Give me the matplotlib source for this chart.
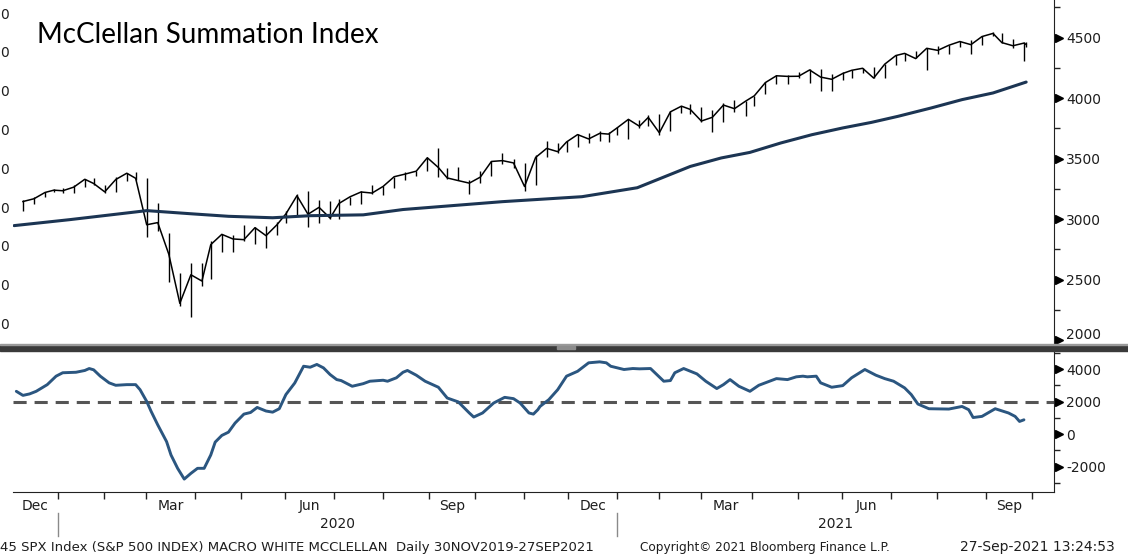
import numpy as np
import pandas as pd
import matplotlib
matplotlib.use("Agg")
import matplotlib.pyplot as plt
from matplotlib import transforms
from matplotlib.patches import Rectangle

W, H = 1128, 555

# NYSE holidays in the window -> trading-day x axis like the terminal chart
holidays = ["2019-12-25", "2020-01-01", "2020-01-20", "2020-02-17", "2020-04-10",
            "2020-05-25", "2020-07-03", "2020-09-07", "2020-11-26", "2020-12-25",
            "2021-01-01", "2021-01-18", "2021-02-15", "2021-04-02", "2021-05-31",
            "2021-07-05", "2021-09-06", "2021-10-11"]
days = pd.bdate_range("2019-12-02", "2021-10-29", freq="C", holidays=holidays)

# SPX weekly bars (week ending Friday, last one 27 Sep 2021)
week_end = list(pd.date_range("2019-12-06", "2021-09-24", freq="W-FRI")) + [pd.Timestamp("2021-09-27")]
spx_close = [3146, 3169, 3221, 3240,
             3235, 3265, 3330, 3295, 3226, 3328, 3380, 3338, 2954,
             2972, 2711, 2305, 2541, 2489, 2790, 2875, 2837,
             2831, 2930, 2864, 2955, 3044, 3194, 3041, 3098, 3009,
             3130, 3185, 3225, 3216, 3271, 3351, 3373, 3397, 3508,
             3427, 3341, 3319, 3298, 3348, 3477, 3484, 3465, 3270,
             3510, 3585, 3558, 3638, 3699, 3663, 3709, 3703,
             3756, 3825, 3768, 3841, 3714, 3887, 3934, 3907, 3811,
             3842, 3943, 3913, 3975, 4020, 4129, 4185, 4180, 4181,
             4233, 4174, 4156, 4204, 4230, 4247, 4166, 4281,
             4352, 4370, 4327, 4412, 4395, 4437, 4468, 4442, 4509,
             4535, 4459, 4433, 4455, 4443]
spx_high = [3157, 3182, 3226, 3247,
            3258, 3282, 3330, 3338, 3285, 3348, 3385, 3393, 3338,
            3137, 2882, 2553, 2637, 2641, 2819, 2880, 2870,
            2955, 2932, 2945, 2980, 3068, 3211, 3233, 3155, 3154,
            3165, 3186, 3233, 3280, 3272, 3352, 3387, 3399, 3509,
            3588, 3425, 3428, 3320, 3397, 3482, 3550, 3501, 3465,
            3529, 3645, 3628, 3644, 3700, 3712, 3726, 3724,
            3760, 3826, 3823, 3861, 3870, 3894, 3937, 3951, 3929,
            3903, 3960, 3983, 3979, 4021, 4130, 4192, 4195, 4219,
            4238, 4238, 4196, 4220, 4234, 4249, 4257, 4286,
            4356, 4372, 4393, 4415, 4430, 4441, 4469, 4480, 4513,
            4546, 4536, 4485, 4466, 4465]
spx_low = [3070, 3128, 3183, 3222,
           3213, 3215, 3264, 3281, 3214, 3222, 3316, 3328, 2855,
           2902, 2478, 2281, 2192, 2448, 2505, 2728, 2727,
           2817, 2798, 2766, 2873, 2969, 3038, 2936, 2965, 3005,
           3001, 3115, 3127, 3207, 3200, 3260, 3327, 3354, 3396,
           3349, 3330, 3322, 3210, 3297, 3354, 3460, 3420, 3234,
           3280, 3511, 3543, 3555, 3594, 3633, 3645, 3636,
           3697, 3663, 3750, 3767, 3694, 3725, 3874, 3866, 3805,
           3724, 3805, 3886, 3853, 3939, 4035, 4118, 4118, 4164,
           4128, 4057, 4061, 4148, 4168, 4207, 4165, 4164,
           4271, 4310, 4328, 4234, 4361, 4368, 4426, 4368, 4440,
           4513, 4456, 4415, 4305, 4426]

# 200-day moving average
ma_dates = ["2019-12-02", "2020-01-08", "2020-02-21", "2020-02-28", "2020-03-27",
            "2020-04-22", "2020-05-20", "2020-06-15", "2020-07-20", "2020-08-13",
            "2020-10-16", "2020-12-08", "2021-01-14", "2021-02-19", "2021-03-11",
            "2021-03-30", "2021-04-20", "2021-05-10", "2021-05-28", "2021-06-17",
            "2021-07-06", "2021-07-27", "2021-08-16", "2021-09-03", "2021-09-27"]
ma_values = [2947, 2996, 3060, 3071, 3045, 3024, 3012, 3029, 3036, 3080,
             3145, 3186, 3260, 3436, 3506, 3552, 3630, 3698, 3754, 3800,
             3850, 3919, 3988, 4043, 4133]

# McClellan Summation Index (lower panel)
mcsi_dates = ["2019-12-03", "2019-12-06", "2019-12-11", "2019-12-16", "2019-12-23", "2019-12-30",
              "2020-01-03", "2020-01-13", "2020-01-17", "2020-01-22", "2020-01-24", "2020-01-29",
              "2020-02-04", "2020-02-07", "2020-02-14", "2020-02-21", "2020-02-25", "2020-02-28",
              "2020-03-03", "2020-03-06", "2020-03-12", "2020-03-16", "2020-03-19", "2020-03-24", "2020-03-27",
              "2020-04-01", "2020-04-06", "2020-04-09", "2020-04-14", "2020-04-17", "2020-04-22", "2020-04-27",
              "2020-05-01", "2020-05-06", "2020-05-11", "2020-05-15", "2020-05-20", "2020-05-26", "2020-05-29",
              "2020-06-04", "2020-06-10", "2020-06-15", "2020-06-18", "2020-06-23", "2020-06-26",
              "2020-07-01", "2020-07-06", "2020-07-13", "2020-07-20", "2020-07-23", "2020-07-31",
              "2020-08-04", "2020-08-10", "2020-08-13", "2020-08-17", "2020-08-21", "2020-08-27",
              "2020-09-04", "2020-09-11", "2020-09-18", "2020-09-25", "2020-09-29",
              "2020-10-05", "2020-10-12", "2020-10-19", "2020-10-23", "2020-10-28",
              "2020-11-03", "2020-11-05", "2020-11-09", "2020-11-10", "2020-11-16", "2020-11-20", "2020-11-27",
              "2020-12-04", "2020-12-11", "2020-12-18", "2020-12-23", "2020-12-28",
              "2021-01-06", "2021-01-12", "2021-01-15", "2021-01-25", "2021-01-27",
              "2021-02-02", "2021-02-05", "2021-02-09", "2021-02-16", "2021-02-24",
              "2021-03-02", "2021-03-09", "2021-03-12", "2021-03-17", "2021-03-23", "2021-03-30",
              "2021-04-06", "2021-04-16", "2021-04-23", "2021-04-29",
              "2021-05-04", "2021-05-06", "2021-05-12", "2021-05-14", "2021-05-21", "2021-05-28",
              "2021-06-04", "2021-06-14", "2021-06-21", "2021-06-25",
              "2021-07-01", "2021-07-09", "2021-07-14", "2021-07-19", "2021-07-26",
              "2021-08-06", "2021-08-16", "2021-08-19", "2021-08-23", "2021-08-27",
              "2021-09-07", "2021-09-15", "2021-09-20", "2021-09-22", "2021-09-24"]
mcsi_values = [2630, 2380, 2470, 2630, 3040, 3560,
               3770, 3800, 3910, 4030, 3950, 3560,
               3150, 3000, 3040, 3040, 2730, 2010,
               1400, 570, -460, -1280, -2100, -2760, -2410,
               -2100, -2100, -1280, -490, -80, 120, 680,
               1230, 1330, 1640, 1420, 1350, 1560, 2430,
               3140, 4170, 4110, 4280, 4070, 3660,
               3350, 3290, 2940, 3100, 3250, 3310,
               3250, 3460, 3800, 3910, 3620, 3250,
               2880, 2220, 1980, 1300, 1050,
               1300, 1910, 2260, 2180, 1910,
               1300, 1230, 1500, 1700, 2120, 2730, 3560,
               3860, 4380, 4440, 4380, 4170,
               3970, 4030, 4010, 4030, 3770,
               3250, 3290, 3770, 4030, 3700,
               3250, 2800, 3040, 3350, 2940, 2630,
               3000, 3410, 3350, 3520,
               3560, 3520, 3560, 3150, 2880, 2980,
               3460, 3970, 3620, 3410,
               3250, 2840, 2430, 1850, 1560,
               1540, 1700, 1500, 1020, 1090,
               1560, 1300, 1090, 780, 880]
mcsi_ref = 2000

top_ticks = [2000, 2500, 3000, 3500, 4000, 4500]
top_minor = [2250, 2750, 3250, 3750, 4250, 4750]
low_ticks = [-2000, 0, 2000, 4000]
low_minor = [-3000, -1000, 1000, 3000, 5000]
quarter_months = ["Dec", "Mar", "Jun", "Sep"]

TXT = "#1e1e1e"
plt.rcParams["font.family"] = "DejaVu Sans"
plt.rcParams["axes.unicode_minus"] = False


def idx(dates):
    # position of the last trading day on or before each date
    return days.searchsorted(pd.to_datetime(dates), side="right") - 1


def box(l, t, r, b):
    return [l / W, 1 - b / H, (r - l) / W, (b - t) / H]


fig = plt.figure(figsize=(W / 100, H / 100), dpi=100)
ax1 = fig.add_axes(box(13, 0, 1054, 344))
ax2 = fig.add_axes(box(13, 351, 1054, 492))
xmax = 470.6

# upper panel: SPX bars + 200d MA
xw = idx(week_end)
ax1.vlines(xw, spx_low, spx_high, color="black", lw=1.0)
ax1.plot(xw, spx_close, color="black", lw=1.1)
ax1.plot(idx(ma_dates), ma_values, color="#1c3553", lw=2.2, solid_capstyle="round")
ax1.set_ylim(1969, 4811)
ax1.set_yticks(top_ticks)
ax1.set_yticks(top_minor, minor=True)
ax1.set_xticks([])

# lower panel: summation index
ax2.axhline(mcsi_ref, color="#555555", lw=2.2, dashes=(4.3, 2.6))
ax2.plot(idx(mcsi_dates), mcsi_values, color="#2b5680", lw=2.1, solid_capstyle="round")
ax2.set_ylim(-3554, 5106)
ax2.set_yticks(low_ticks)
ax2.set_yticks(low_minor, minor=True)

for ax, ticks in ((ax1, top_ticks), (ax2, low_ticks)):
    ax.set_xlim(-0.5, xmax)
    for s in ("left", "top", "bottom"):
        ax.spines[s].set_visible(False)
    ax.spines["right"].set_color("#222222")
    ax.yaxis.tick_right()
    ax.tick_params(axis="y", which="major", length=0, pad=8.6, labelsize=10, labelcolor=TXT)
    ax.tick_params(axis="y", which="minor", length=4, width=1, direction="out", color="#222222")
    tr = ax.get_yaxis_transform() + transforms.ScaledTranslation(3.3 / 72, 0, fig.dpi_scale_trans)
    ax.plot([1] * len(ticks), ticks, ls="none", marker=">", ms=5.5, color="black",
            transform=tr, clip_on=False)

# lowest label of the top scale sits a little higher, clear of the divider
fig.canvas.draw()
lab = ax1.yaxis.get_majorticklabels()[0]
lab.set_transform(lab.get_transform() + transforms.ScaledTranslation(0, 5 / 72, fig.dpi_scale_trans))

ax2.spines["bottom"].set_visible(True)
ax2.spines["bottom"].set_color("#222222")

# month ticks and quarter labels (ticks sit just before the month's first session)
starts = np.flatnonzero(np.r_[True, days.month[1:] != days.month[:-1]])
edges_m = starts - 1.2
ax2.set_xticks(edges_m[1:])
ax2.tick_params(axis="x", which="major", length=5, width=1, direction="out",
                color="#222222", labelbottom=False)
bounds = np.r_[-0.5, edges_m[1:]]
names = [days[s].strftime("%b") for s in starts]
centers = (bounds[:-1] + bounds[1:]) / 2
sel = [i for i in range(len(centers)) if names[i] in quarter_months and centers[i] < xmax]
ax2.set_xticks(centers[sel], [names[i] for i in sel], minor=True)
ax2.tick_params(axis="x", which="minor", length=0, pad=5, labelsize=10, labelcolor=TXT)

# year row
yr_tr = transforms.blended_transform_factory(ax2.transData, fig.transFigure)
jan = [e for s, e in zip(starts, edges_m) if days[s].month == 1]
jan_years = [days[s].year for s in starts if days[s].month == 1]
edges = jan + [xmax]
for a, b, yr in zip(edges[:-1], edges[1:], jan_years):
    ax2.text((a + b) / 2, 1 - 524 / H, str(yr), transform=yr_tr,
             ha="center", va="center", fontsize=10, color=TXT)
for a in jan:
    ax2.plot([a, a], [1 - 513 / H, 1 - 536 / H], color="#8a8a8a", lw=1,
             transform=yr_tr, clip_on=False)

# panel divider
fig.patches.append(Rectangle((0, 1 - 351 / H), 1, 6 / H, transform=fig.transFigure,
                             color="#3a3a3a", zorder=5))
fig.patches.append(Rectangle((0, 1 - 345 / H), 1, 1.2 / H, transform=fig.transFigure,
                             color="#9a9a9a", zorder=6))
fig.patches.append(Rectangle((557 / W, 1 - 349 / H), 18 / W, 3 / H, transform=fig.transFigure,
                             color="#8c8c8c", zorder=6))

# cut-off left scale of the terminal window
for k in range(9):
    fig.text(0.5 / W, 1 - (325 - 38.8 * k) / H, "0", ha="left", va="center",
             fontsize=10, color=TXT)

fig.text(37 / W, 1 - 35 / H, "McClellan Summation Index", fontsize=20,
         family="Lato", ha="left", va="center", color="black")

fy = 1 - 547 / H
fig.text(0 / W, fy, "45 SPX Index (S&P 500 INDEX) MACRO WHITE MCCLELLAN  Daily 30NOV2019-27SEP2021",
         ha="left", va="center", fontsize=9.5, color=TXT)
fig.text(640 / W, fy, "Copyright\u00a9 2021 Bloomberg Finance L.P.", ha="left", va="center",
         fontsize=8.7, color=TXT)
fig.text(1115 / W, fy, "27-Sep-2021 13:24:53", ha="right", va="center", fontsize=10, color=TXT)

fig.savefig("out.png", dpi=100)
